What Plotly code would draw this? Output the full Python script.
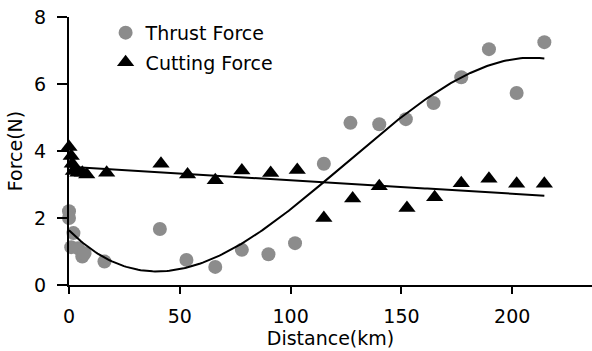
import numpy as np
import plotly.graph_objects as go

# Measured forces versus travelled distance
thrust_km = [0, 0, 1, 2, 4, 6, 7, 16, 41, 53, 66, 78, 90, 102, 115, 127, 140,
             152, 164.5, 177, 189.5, 202, 214.5]
thrust_force = [2.2, 2.0, 1.13, 1.55, 1.1, 0.85, 0.95, 0.7, 1.67, 0.75, 0.54,
                1.05, 0.92, 1.25, 3.62, 4.84, 4.8, 4.95, 5.43, 6.2, 7.04, 5.73, 7.25]

cutting_km = [0, 1, 1.5, 2, 4, 6, 8, 17, 41.5, 53.5, 66, 78, 91, 103, 115, 128,
              140, 152.5, 165, 177, 189.5, 202, 214.5]
cutting_force = [4.12, 3.85, 3.62, 3.4, 3.35, 3.35, 3.3, 3.35, 3.62, 3.3, 3.13,
                 3.42, 3.34, 3.43, 2.0, 2.58, 2.95, 2.3, 2.62, 3.04, 3.17, 3.02, 3.02]

x_ticks = [0, 50, 100, 150, 200]
y_ticks = [0, 2, 4, 6, 8]

FONT = "DejaVu Sans"
GREY = "#8c8c8c"

# Trend lines: cubic fit for thrust, linear fit for cutting force
tx = np.linspace(min(thrust_km), max(thrust_km), 200)
thrust_fit = np.polyval(np.polyfit(thrust_km, thrust_force, 3), tx)
cx = np.linspace(min(cutting_km), max(cutting_km), 200)
cutting_fit = np.polyval(np.polyfit(cutting_km, cutting_force, 1), cx)

fig = go.Figure()
fig.add_trace(go.Scatter(
    x=thrust_km, y=thrust_force, mode="markers", name="Thrust Force",
    legendgroup="t", cliponaxis=False,
    marker=dict(symbol="circle", size=14, color=GREY, line=dict(width=0)),
))
fig.add_trace(go.Scatter(
    x=cutting_km, y=cutting_force, mode="markers", name="Cutting Force",
    legendgroup="c", cliponaxis=False,
    marker=dict(symbol="triangle-up", size=15, color="black", line=dict(width=0)),
))
fig.add_trace(go.Scatter(
    x=tx, y=thrust_fit, mode="lines", showlegend=False, hoverinfo="skip",
    line=dict(color="black", width=2),
))
fig.add_trace(go.Scatter(
    x=cx, y=cutting_fit, mode="lines", showlegend=False, hoverinfo="skip",
    line=dict(color="black", width=2),
))

fig.update_layout(
    width=592, height=351,
    margin=dict(l=69, r=0, t=17, b=66),
    paper_bgcolor="white", plot_bgcolor="white",
    font=dict(family=FONT, size=19, color="black"),
    legend=dict(
        x=0.07, y=1.012, xanchor="left", yanchor="top",
        bgcolor="rgba(0,0,0,0)", font=dict(family=FONT, size=19),
        traceorder="grouped", tracegroupgap=2,
    ),
    xaxis=dict(
        range=[0, 236], tickvals=x_ticks, showgrid=False, zeroline=False,
        showline=True, linecolor="black", linewidth=2,
        ticks="outside", ticklen=7, tickwidth=2, tickcolor="black",
        ticklabelstandoff=6,
        title=dict(text="Distance(km)", standoff=0, font=dict(size=19)),
    ),
    yaxis=dict(
        range=[0, 8], tickvals=y_ticks, showgrid=False, zeroline=False,
        showline=True, linecolor="black", linewidth=2,
        ticks="outside", ticklen=10, tickwidth=2, tickcolor="black",
        ticklabelstandoff=7,
        title=dict(text="Force(N)", standoff=6, font=dict(size=19)),
    ),
)

fig.write_html("out.html")
